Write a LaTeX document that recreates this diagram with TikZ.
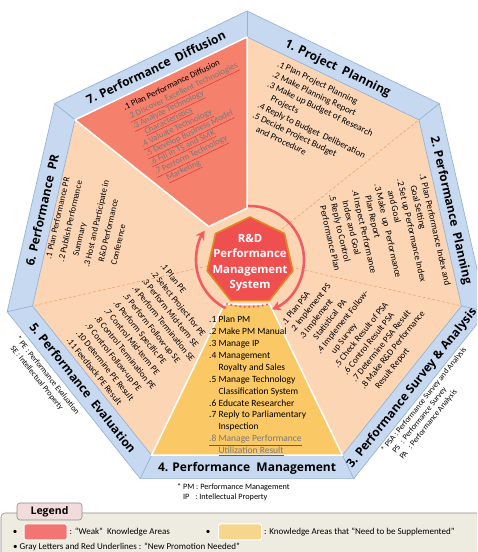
\documentclass[tikz,border=0pt]{standalone}
\usepackage{fontspec}
\setmainfont{Carlito}
\newfontfamily\titlefont{Open Sans}
\usetikzlibrary{arrows.meta}
\definecolor{bandblue}{HTML}{C6D9F1}
\definecolor{bandline}{HTML}{95B3D7}
\definecolor{peach}{HTML}{FCD5B5}
\definecolor{weakred}{HTML}{F5806C}
\definecolor{suppyellow}{HTML}{FAC864}
\definecolor{corered}{HTML}{F04F50}
\definecolor{coreedge}{HTML}{E3861F}
\definecolor{arrowred}{HTML}{F25C5C}
\definecolor{divline}{HTML}{E8A062}
\definecolor{legbg}{HTML}{EEECE1}
\definecolor{legtab}{HTML}{F2DCDB}
\definecolor{legedge}{HTML}{8C8C8C}
\definecolor{graytext}{HTML}{7A7A7A}
\definecolor{ulred}{HTML}{E4262A}
\definecolor{swred}{HTML}{F27573}
\definecolor{swyellow}{HTML}{F6D68C}
\newcommand\gl[1]{{\color{ulred}\underline{\color{graytext}#1}}}
\begin{document}
\begin{tikzpicture}[x=1pt,y=1pt,
  bandtitle/.style={font=\titlefont\bfseries\fontsize{12}{14}\selectfont, inner sep=0pt, text height=8.6pt, text depth=0pt},
  items/.style n args={2}{font=\fontsize{#1}{#2}\selectfont, align=left, inner sep=0pt, anchor=north west},
  bandedge/.style={draw=bandline, line width=0.7pt, line join=round},
  divider/.style={draw=divline, line width=0.5pt, densely dashed},
  zone/.style={draw=white, line width=1.5pt, line join=round},
  cyclearrow/.style={draw=arrowred, line width=2.6pt, -{Stealth[length=9pt,width=10pt]}},
  legtext/.style={font=\fontsize{9}{11}\selectfont, inner sep=1pt},
  swatch/.style={draw=white, line width=1pt, rounded corners=2pt, minimum width=43pt, minimum height=16pt, inner sep=0pt}
]
\useasboundingbox (0,0) rectangle (477,552);
\clip (0,0) rectangle (477,552);

\begin{scope}[shift={(247,295)}]
  \filldraw[fill=bandblue, bandedge] (90:246) \foreach \k in {1,...,6}{ -- ({90-\k*360/7}:246)} -- cycle;
  \foreach \k in {0,...,6} \draw[bandedge] ({90-\k*360/7}:246) -- ({90-\k*360/7}:220);
  \filldraw[fill=peach, bandedge] (90:220) \foreach \k in {1,...,6}{ -- ({90-\k*360/7}:220)} -- cycle;
  \foreach \a in {38.571,-12.857,-167.143} \draw[divider] (\a:30) -- (\a:220);
  \filldraw[fill=weakred, zone] (141.429:48.8) -- (141.429:220) -- (90:220) -- (90:48.8) -- cycle;
  \filldraw[fill=suppyellow, zone] (-64.286:52.2) -- (-64.286:220) -- (-115.714:220) -- (-115.714:52.2) -- cycle;

  \node[bandtitle, rotate=-25.714] (t1) at (64.286:210) {1. Project\ \ Planning};
  \node[bandtitle, rotate=-77.143] (t2) at (12.857:210) {2. Performance\ \ Planning};
  \node[bandtitle, rotate=51.429] (t3) at (-38.571:210) {3. Performance Survey \& Analysis};
  \node[bandtitle] (t4) at (-90:210) {4. Performance\ \ Management};
  \node[bandtitle, rotate=-51.429] (t5) at (-141.429:210) {5. Performance\ \ Evaluation};
  \node[bandtitle, rotate=77.143] (t6) at (167.143:210) {6. Performance\ \ PR};
  \node[bandtitle, rotate=25.714] (t7) at (115.714:210) {7. Performance\ \ Diffusion};
\end{scope}

% cycle arrows
\begin{scope}[shift={(250,292)}]
  \draw[cyclearrow] (92:54) arc[start angle=92, end angle=-66, radius=54];
  \draw[cyclearrow] (-117:54) arc[start angle=-117, end angle=-213, radius=54];
\end{scope}
\coordinate (dotL) at (227,248);
\coordinate (dotR) at (269,248);
\draw[arrowred, line width=2.4pt, dash pattern=on 0pt off 4.5pt, line cap=round] (dotL) to[bend right=14] (dotR);

% core heptagon
\begin{scope}[shift={(250,291)}]
  \filldraw[fill=corered, draw=coreedge, line width=1.6pt, line join=round] (90:44) \foreach \k in {1,...,6}{ -- ({90-\k*360/7}:44)} -- cycle;
\end{scope}
\node[font=\titlefont\bfseries\fontsize{11.3}{15.5}\selectfont, text=white, align=center, inner sep=0pt] (core) at (250,289) {R\&D\\Performance\\Management\\System};

% sector texts
\node[items={9.2}{11.4}, rotate=-25.714] (s1) at (279.5,492) {.1 Plan Project Planning\\
.2 Make Planning Report\\
.3 Make up Budget of Research\\
\phantom{.3 }Projects\\
.4 Reply to Budget\ \ Deliberation\\
.5 Decide Project Budget\\
\phantom{.5 }and Procedure};

\node[items={9.2}{11.6}, rotate=-77.143] (s2) at (426,379) {.1 Plan Performance Index and\\
\phantom{.1 }Goal Setting\\
.2 Set up Performance Index\\
\phantom{.2 }and Goal\\
.3 Make\ \ up\ \ Performance\\
\phantom{.3 }Plan Report\\
.4 Inspect Performance\\
\phantom{.4 }Index and Goal\\
.5 Reply to Control\\
\phantom{.5 }Performance Plan};

\node[items={9}{11.3}, rotate=51.429] (s3) at (280,230) {.1 Plan PSA\\
.2 Implement PS\\
.3 Implement\\
\phantom{.3 }Statistical\ \ PA\\
.4 Implement Follow-\\
\phantom{.4 }up Survey\\
.5 Check Result of PSA\\
.6 Control Result PSA\\
.7 Determine PSA Result\\
.8 Make R\&D Performance\\
\phantom{.8 }Result Report};

\node[items={9.5}{11.9}] (s4) at (209,236) {.1 Plan PM\\
.2 Make PM Manual\\
.3 Manage IP\\
.4 Management\\
\phantom{.4 }Royalty and Sales\\
.5 Manage Technology\\
\phantom{.5 }Classification System\\
.6 Educate Researcher\\
.7 Reply to Parliamentary\\
\phantom{.7 }Inspection\\
\gl{.8 Manage Performance}\\
\phantom{.8 }\gl{Utilization Result}};

\node[items={8.9}{12}, rotate=-51.429] (s5) at (165,290) {.1 Plan PE\\
.2 Select Project for PE\\
.3 Perform Mid-term SE\\
.4 Perform Termination SE\\
.5 Perform Follow-up SE\\
.6 Perform Specific PE\\
.7 Control Mid-term PE\\
.8 Control Termination PE\\
.9 Control Follow-up PE\\
.10 Determine PE Result\\
.11 Feedback PE Result};

\node[items={8.8}{13}, rotate=77.143] (s6) at (45,294) {.1 Plan Performance PR\\
.2 Publish Performance\\
\phantom{.2 }Summary\\
.3 Host and Participate in\\
\phantom{.3 }R\&D Performance\\
\phantom{.3 }Conference};

\node[items={8.8}{10.2}, rotate=25.714] (s7) at (122,447) {.1 Plan Performance Diffusion\\
\gl{.2 Discover Excellent Technologies}\\
\gl{.3 Analyze Technology}\\
\phantom{.3 }\gl{Characteristics}\\
\gl{.4 Valuate Technology}\\
\gl{.5 Develop Business Model}\\
\gl{.6 Fill in TS and SMK}\\
\gl{.7 Perform Technology}\\
\phantom{.7 }\gl{Marketing}};

% notes
\node[items={8.2}{10.5}] (pmnote) at (177,69) {* PM : Performance Management\\
\phantom{* }IP\hspace{4pt} : Intellectual Property};
\node[items={8}{9.5}, rotate=51.429] (psanote) at (380,103) {* PSA : Performance Survey and Analysis\\
\phantom{* }PS\hspace{3pt} : Performance Survey\\
\phantom{* }PA\hspace{3pt} : Performance Analysis};
\node[items={8}{10}, rotate=-51.429] (penote) at (20,217) {* PE : Performance Evaluation\\
\phantom{*}SE : Intellectual Property};

% legend
\filldraw[fill=legbg, draw=legedge, line width=0.6pt, rounded corners=4pt] (1,39) rectangle (500,-10);
\node[draw=legedge, fill=legtab, line width=0.6pt, rounded corners=3pt, minimum width=65pt, minimum height=17pt, inner sep=0pt, font=\titlefont\bfseries\fontsize{10.5}{12}\selectfont] (legend) at (49.5,40.5) {Legend};
\node[legtext] (b1) at (15,20) {•};
\node[swatch, fill=swred] (sw1) at (45.5,20) {};
\node[legtext, anchor=west] (w1) at ([xshift=1pt]sw1.east) {: “Weak”\ \ Knowledge Areas};
\node[legtext] (b2) at (208,20) {•};
\node[swatch, fill=swyellow] (sw2) at (240,20) {};
\node[legtext, anchor=west] (w2) at ([xshift=1pt]sw2.east) {: Knowledge Areas that “Need to be Supplemented”};
\node[legtext, anchor=west] (r2) at (12,5) {•\ Gray Letters and Red Underlines : “New Promotion Needed”};
\end{tikzpicture}
\end{document}
